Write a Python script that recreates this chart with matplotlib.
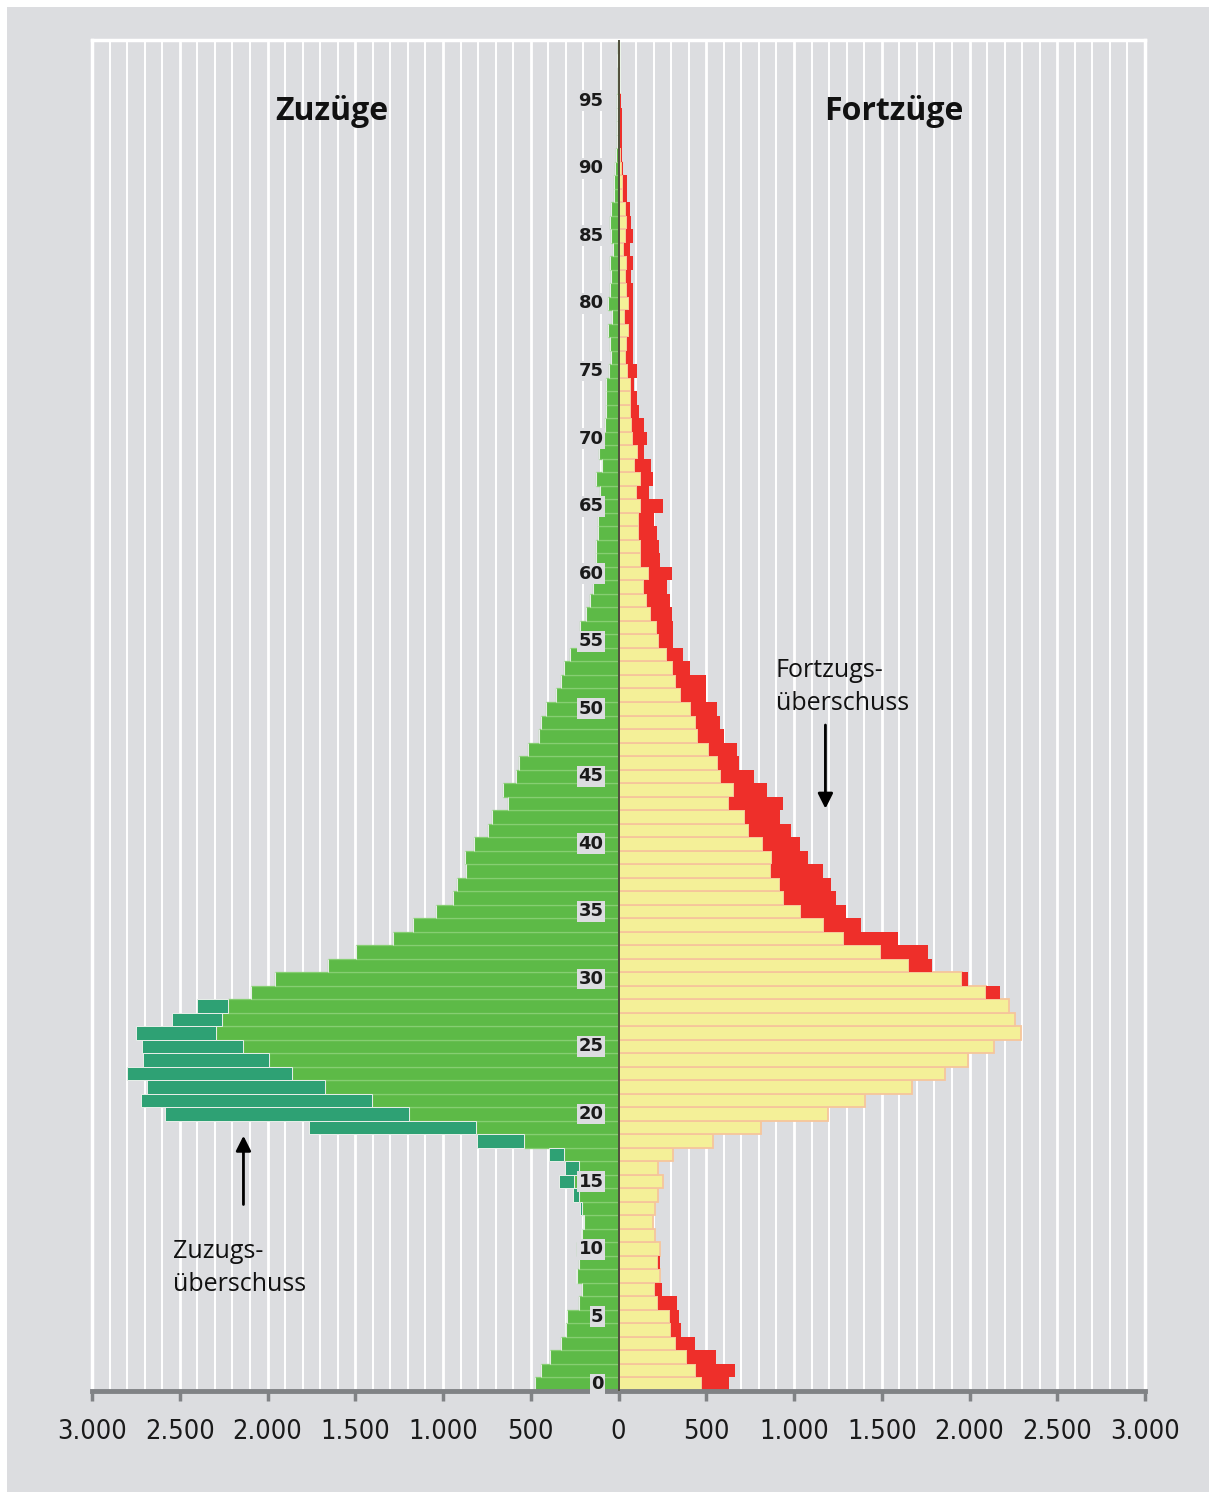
import numpy as np
import matplotlib
matplotlib.use("Agg")
import matplotlib.pyplot as plt
from matplotlib.patches import Rectangle

# =========================
# DATA (persons per age year)
# =========================

ages = list(range(100))

zuzuege = [
    477, 442, 391, 329, 299, 294, 224, 207, 242, 226,        # 0-9
    237, 213, 200, 221, 259, 339, 304, 397, 807, 1764,       # 10-19
    2584, 2721, 2686, 2800, 2711, 2715, 2749, 2544, 2401, 2093,  # 20-29
    1955, 1655, 1496, 1285, 1170, 1039, 943, 920, 868, 874,  # 30-39
    823, 744, 721, 629, 658, 584, 567, 516, 453, 442,        # 40-49
    412, 356, 328, 312, 274, 232, 218, 183, 164, 148,        # 50-59
    171, 130, 127, 115, 115, 129, 106, 128, 94, 109,         # 60-69
    83, 77, 71, 71, 72, 55, 42, 46, 57, 37,                  # 70-79
    60, 46, 42, 46, 34, 40, 46, 40, 27, 28,                  # 80-89
    19, 17, 10, 11, 8, 11, 5, 4, 11, 4,                      # 90-99
]

fortzuege = [
    630, 663, 558, 436, 356, 345, 334, 248, 234, 237,        # 0-9
    234, 207, 199, 210, 224, 256, 224, 311, 539, 813,        # 10-19
    1192, 1405, 1673, 1863, 1992, 2141, 2296, 2257, 2225, 2171,  # 20-29
    1989, 1789, 1761, 1590, 1379, 1299, 1242, 1213, 1167, 1077,  # 30-39
    1032, 985, 922, 940, 844, 770, 684, 678, 599, 581,       # 40-49
    564, 496, 496, 405, 365, 308, 313, 302, 291, 279,        # 50-59
    302, 239, 228, 217, 200, 251, 171, 194, 188, 143,        # 60-69
    160, 143, 114, 103, 91, 103, 80, 85, 80, 85,             # 70-79
    80, 85, 74, 85, 63, 80, 74, 68, 46, 49,                  # 80-89
    27, 19, 21, 21, 21, 15, 8, 10, 4, 10,                    # 90-99
]

x_ticks = [-3000, -2500, -2000, -1500, -1000, -500, 0, 500, 1000, 1500, 2000, 2500, 3000]
age_labels = list(range(0, 100, 5))

# =========================
# DERIVED
# =========================

zuz = np.array(zuzuege)
fort = np.array(fortzuege)
common = np.minimum(zuz, fort)
zuz_excess = zuz - common
fort_excess = fort - common

# =========================
# COLORS
# =========================

bg = "#dcdde0"
c_green = "#5dba47"
c_green_edge = "#86ce72"
c_teal = "#2ea174"
c_yellow = "#f4f098"
c_yellow_edge = "#f6c59c"
c_red = "#ee2f2a"
c_axis = "#808285"

# =========================
# PLOTTING
# =========================

fig = plt.figure(figsize=(12.16, 14.99), dpi=100, facecolor="white")
fig.patches.append(Rectangle((7 / 1216, 7 / 1499), 1202 / 1216, 1485 / 1499,
                             transform=fig.transFigure, facecolor=bg,
                             edgecolor="none", zorder=-10))

ax = fig.add_axes([92 / 1216, 1 - 1391 / 1499, 1053 / 1216, 1351 / 1499])
ax.set_zorder(1)
ax.set_facecolor(bg)

# vertical grid every 100
for gx in range(-3000, 3001, 100):
    lw = 2.0 if gx % 500 == 0 else 1.4
    ax.axvline(gx, color="white", lw=lw, zorder=0.5)

# left side: Zuzüge
ax.barh(ages, -common, height=1.0, color=c_green, edgecolor=c_green_edge,
        linewidth=0.9, zorder=2)
ax.barh(ages, -zuz_excess, left=-common, height=1.0, color=c_teal,
        edgecolor="#e9efe9", linewidth=0.7, zorder=2)

# right side: Fortzüge
ax.barh(ages, common, height=1.0, color=c_yellow, edgecolor=c_yellow_edge,
        linewidth=1.3, zorder=2)
ax.barh(ages, fort_excess, left=common, height=1.0, color=c_red,
        edgecolor="none", linewidth=0, zorder=2)

ax.axvline(0, color="#4e4f3c", lw=1.4, zorder=4)

ax.set_xlim(-3000, 3000)
ax.set_ylim(-0.5, 99.5)

# age labels
for a in age_labels:
    ax.text(-85, a, str(a), ha="right", va="center", fontsize=13,
            fontweight="bold", color="#1a1a1a", zorder=6,
            bbox=dict(boxstyle="square,pad=0.08", fc=bg, ec="none"))

# spines / ticks
for s in ["left", "right", "top"]:
    ax.spines[s].set_color("white")
    ax.spines[s].set_linewidth(2.5)
ax.spines["bottom"].set_color(c_axis)
ax.spines["bottom"].set_linewidth(3.5)
ax.set_yticks([])
ax.set_xticks(x_ticks)
ax.set_xticklabels([f"{abs(v):,}".replace(",", ".") for v in x_ticks],
                   fontsize=19.5, color="#1a1a1a", family="DejaVu Sans",
                   fontstretch="condensed")
ax.tick_params(axis="x", direction="out", length=7, width=2.5,
               color=c_axis, pad=13)

# titles
ax.text(-1635, 94.2, "Zuzüge", ha="center", va="center", fontsize=23,
        fontweight="bold", family=["Open Sans", "DejaVu Sans"], color="#111111")
ax.text(1567, 94.2, "Fortzüge", ha="center", va="center", fontsize=23,
        fontweight="bold", family=["Open Sans", "DejaVu Sans"], color="#111111")

# annotations
ax.text(895, 51.6, "Fortzugs-\nüberschuss", ha="left", va="center",
        fontsize=18, family=["Open Sans", "DejaVu Sans"], color="#111111",
        linespacing=1.45)
ax.annotate("", xy=(1179, 42.4), xytext=(1179, 49.0),
            arrowprops=dict(arrowstyle="-|>,head_length=0.9,head_width=0.45",
                            color="black", lw=2), zorder=6)

ax.text(-2541, 8.6, "Zuzugs-\nüberschuss", ha="left", va="center",
        fontsize=18, family=["Open Sans", "DejaVu Sans"], color="#111111",
        linespacing=1.45)
ax.annotate("", xy=(-2137, 18.6), xytext=(-2137, 13.1),
            arrowprops=dict(arrowstyle="-|>,head_length=0.9,head_width=0.45",
                            color="black", lw=2), zorder=6)

plt.savefig("out.png", dpi=100, facecolor=fig.get_facecolor())
